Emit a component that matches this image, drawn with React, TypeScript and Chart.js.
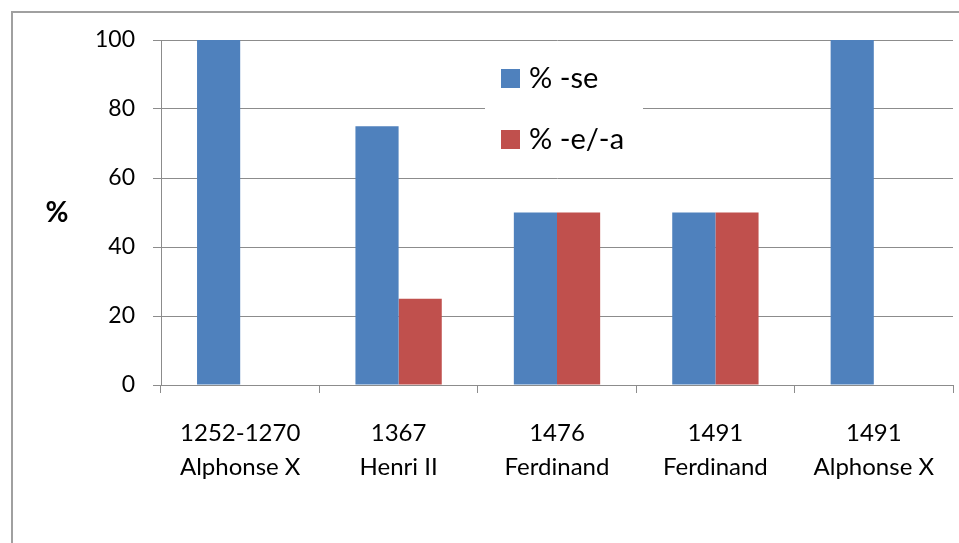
import React, { useEffect, useRef } from "react";
import { Chart, registerables } from "chart.js";

Chart.register(...registerables);

const categories: string[][] = [
  ["1252-1270", "Alphonse X"],
  ["1367", "Henri II"],
  ["1476", "Ferdinand"],
  ["1491", "Ferdinand"],
  ["1491", "Alphonse X"],
];
const seLabel = "% -se";
const seValues = [100, 75, 50, 50, 100];
const eaLabel = "% -e/-a";
const eaValues = [0, 25, 50, 50, 0];
const yTicks = [0, 20, 40, 60, 80, 100];
const yTitle = "%";

const FONT = "Lato, 'Open Sans', sans-serif";
const GRID = "#8c8c8c";

const framePlugin = {
  id: "frame",
  beforeDraw(chart: any) {
    const ctx = chart.ctx;
    ctx.save();
    ctx.fillStyle = "#ffffff";
    ctx.fillRect(0, 0, chart.width, chart.height);
    ctx.strokeStyle = "#a0a0a0";
    ctx.lineWidth = 2;
    ctx.strokeRect(12, 12, chart.width + 50, chart.height + 50);
    ctx.restore();
  },
  afterDraw(chart: any) {
    const ctx = chart.ctx;
    ctx.save();
    ctx.fillStyle = "#000";
    ctx.font = `bold 28px ${FONT}`;
    ctx.textAlign = "center";
    ctx.textBaseline = "middle";
    ctx.fillText(yTitle, 57, 213);
    const y = chart.scales.y;
    const boxL = 485;
    const boxR = 643;
    const boxT = y.getPixelForValue(100) + 3;
    const boxB = y.getPixelForValue(60) - 3;
    ctx.fillStyle = "#ffffff";
    ctx.fillRect(boxL, boxT, boxR - boxL, boxB - boxT);
    const rows = [78, 139];
    chart.data.datasets.forEach((ds: any, i: number) => {
      const cy = rows[i];
      ctx.fillStyle = ds.backgroundColor;
      ctx.fillRect(501, cy - 9, 19, 19);
      ctx.fillStyle = "#000";
      ctx.font = `29px ${FONT}`;
      ctx.textAlign = "left";
      ctx.textBaseline = "middle";
      ctx.fillText(ds.label, 529, cy + 1);
    });
    ctx.restore();
  },
};

export default function App() {
  const ref = useRef<HTMLCanvasElement | null>(null);
  useEffect(() => {
    if (!ref.current) return;
    const chart = new Chart(ref.current, {
      type: "bar",
      data: {
        labels: categories,
        datasets: [
          {
            label: seLabel,
            data: seValues,
            backgroundColor: "#4F81BD",
            categoryPercentage: 0.545,
            barPercentage: 1,
          },
          {
            label: eaLabel,
            data: eaValues,
            backgroundColor: "#C0504D",
            categoryPercentage: 0.545,
            barPercentage: 1,
          },
        ],
      },
      options: {
        animation: false,
        responsive: false,
        maintainAspectRatio: false,
        layout: { padding: { left: 0, top: 40, right: 6, bottom: 0 } },
        plugins: {
          legend: { display: false },
          tooltip: { enabled: false },
        },
        scales: {
          x: {
            offset: true,
            grid: {
              offset: true,
              drawOnChartArea: false,
              drawTicks: true,
              tickLength: 8,
              color: GRID,
              lineWidth: 1,
            },
            border: { color: GRID, width: 1 },
            ticks: {
              color: "#000",
              font: { family: FONT, size: 24, lineHeight: 1.42 },
              padding: 23,
              maxRotation: 0,
              autoSkip: false,
            },
            afterFit: (s: any) => {
              s.height = 158;
            },
          },
          y: {
            min: 0,
            max: 100,
            afterBuildTicks: (s: any) => {
              s.ticks = yTicks.map((v) => ({ value: v }));
            },
            grid: {
              color: GRID,
              lineWidth: 1,
              tickLength: 8,
            },
            border: { color: GRID, width: 1 },
            ticks: {
              color: "#000",
              font: { family: FONT, size: 23 },
              padding: 18,
            },
            afterFit: (s: any) => {
              s.width = 161;
            },
          },
        },
      },
      plugins: [framePlugin],
    });
    return () => chart.destroy();
  }, []);
  return (
    <div style={{ position: "fixed", left: 0, top: 0, width: 959, height: 543 }}>
      <canvas ref={ref} width={959} height={543} style={{ width: 959, height: 543, display: "block" }} />
    </div>
  );
}
